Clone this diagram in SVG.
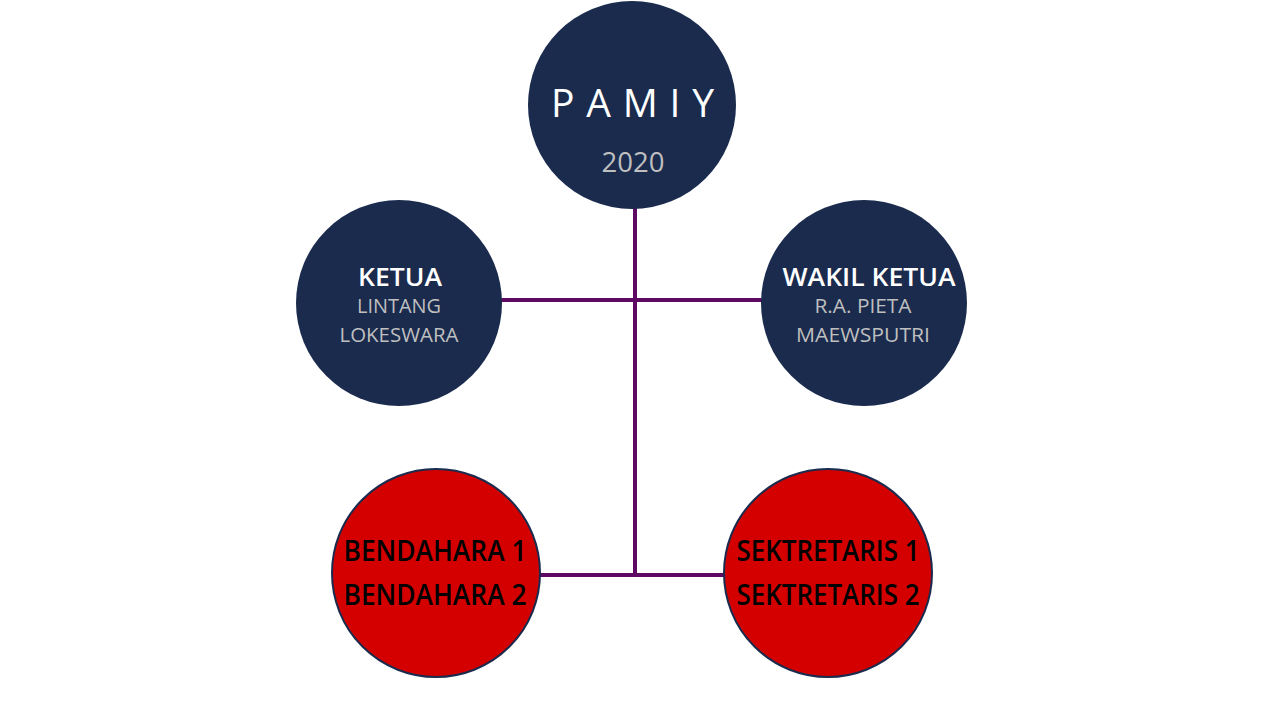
<svg xmlns="http://www.w3.org/2000/svg" width="1280" height="720" viewBox="0 0 1280 720">
<style>
.navy{fill:#1a2b4e}
.red{fill:#d40000;stroke:#1a2b4e;stroke-width:2}
.conn{stroke:#5e0a62;stroke-width:4;fill:none}
text{font-family:"Open Sans","Liberation Sans",Arial,sans-serif;text-anchor:middle}
.title{fill:#ffffff;font-size:25px;font-weight:600}
.sub{fill:#bfbfbf;font-size:20px}
.blk{fill:#000000;font-size:28px;font-weight:600}
</style>
<rect width="1280" height="720" fill="#ffffff"/>
<g id="connectors">
<line class="conn" x1="635" y1="205" x2="635" y2="577"/>
<line class="conn" x1="500" y1="300" x2="763" y2="300"/>
<line class="conn" x1="539" y1="575" x2="725" y2="575"/>
</g>
<g id="pamiy">
<circle class="navy" cx="632" cy="105" r="104"/>
<text x="551" y="117" fill="#ffffff" font-size="39" style="text-anchor:start" textLength="163" lengthAdjust="spacing">PAMIY</text>
<text x="633" y="172" fill="#bfbfbf" font-size="27" textLength="63" lengthAdjust="spacingAndGlyphs">2020</text>
</g>
<g id="ketua">
<circle class="navy" cx="399" cy="303" r="103"/>
<text class="title" x="400" y="286" textLength="84" lengthAdjust="spacingAndGlyphs">KETUA</text>
<text class="sub" x="399" y="313" textLength="84" lengthAdjust="spacingAndGlyphs">LINTANG</text>
<text class="sub" x="399" y="342" textLength="119" lengthAdjust="spacingAndGlyphs">LOKESWARA</text>
</g>
<g id="wakil-ketua">
<circle class="navy" cx="864" cy="303" r="103"/>
<text class="title" x="869" y="286" textLength="173" lengthAdjust="spacingAndGlyphs">WAKIL KETUA</text>
<text class="sub" x="863" y="313" textLength="97" lengthAdjust="spacingAndGlyphs">R.A. PIETA</text>
<text class="sub" x="863" y="342" textLength="134" lengthAdjust="spacingAndGlyphs">MAEWSPUTRI</text>
</g>
<g id="bendahara">
<circle class="red" cx="436" cy="573" r="104"/>
<text class="blk" x="435" y="561" textLength="183" lengthAdjust="spacingAndGlyphs">BENDAHARA 1</text>
<text class="blk" x="435" y="605" textLength="183" lengthAdjust="spacingAndGlyphs">BENDAHARA 2</text>
</g>
<g id="sektretaris">
<circle class="red" cx="828" cy="573" r="104"/>
<text class="blk" x="828" y="561" textLength="183" lengthAdjust="spacingAndGlyphs">SEKTRETARIS 1</text>
<text class="blk" x="828" y="605" textLength="183" lengthAdjust="spacingAndGlyphs">SEKTRETARIS 2</text>
</g>
</svg>
